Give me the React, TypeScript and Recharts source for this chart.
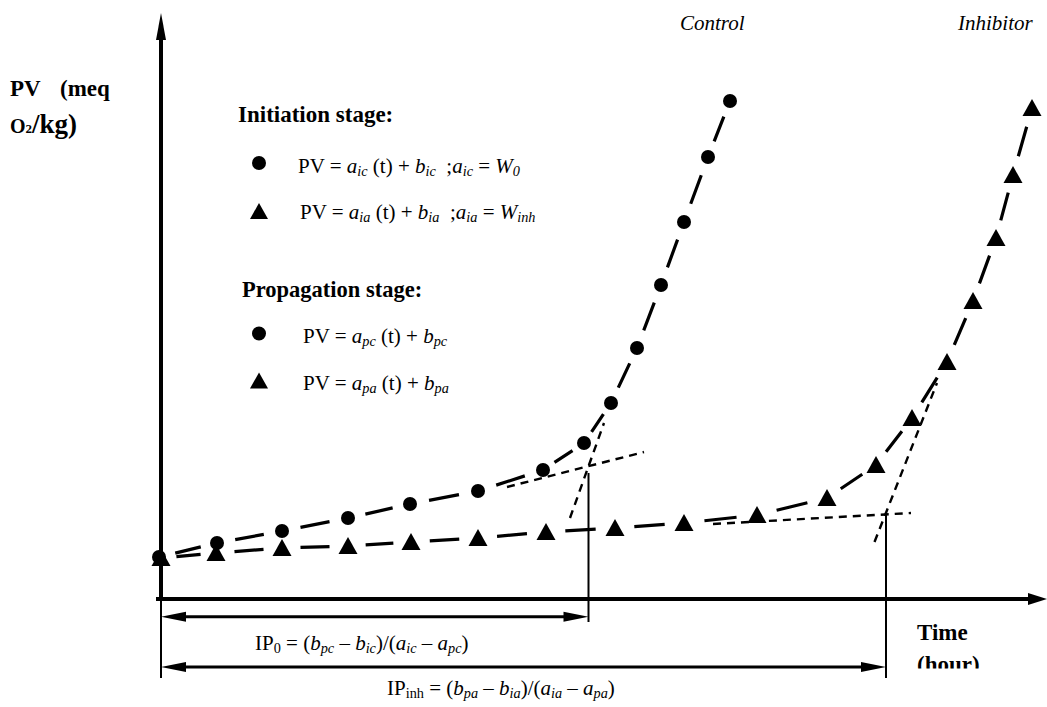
import React from 'react';
import { ComposedChart, Scatter, XAxis, YAxis, ReferenceLine } from 'recharts';

const W = 1047;
const H = 707;
const serif = '"Liberation Serif", "Times New Roman", serif';

// Schematic data (time in arbitrary hours, PV in arbitrary meq O2/kg)
const controlTime = [-0.2, 5.6, 12.1, 18.7, 24.9, 31.7, 38.2, 42.3, 45.0, 47.6, 50.0, 52.3, 54.7, 56.9];
const controlPV = [4.2, 5.6, 6.8, 8.1, 9.5, 10.8, 12.9, 15.6, 19.6, 25.1, 31.4, 37.7, 44.2, 49.8];
const inhibitorTime = [0, 5.5, 12.1, 18.7, 25.0, 31.7, 38.5, 45.4, 52.3, 59.6, 66.6, 71.5, 75.1, 78.6, 81.2, 83.5, 85.2, 87.1];
const inhibitorPV = [4.1, 4.6, 5.1, 5.3, 5.7, 6.1, 6.7, 7.1, 7.6, 8.4, 10.1, 13.4, 18.1, 23.7, 29.8, 36.1, 42.4, 49.1];

// Tangent lines (initiation / propagation stages)
const ctrlInitT = [34.6, 48.3];
const ctrlInitPV = [11.2, 14.7];
const ctrlPropT = [40.9, 44.3];
const ctrlPropPV = [8.1, 17.6];
const inhInitT = [55.2, 75.0];
const inhInitPV = [7.5, 8.6];
const inhPropT = [71.35, 77.6];
const inhPropPV = [5.7, 21.6];

// Induction periods (intersection times) and annotation levels
const ip0Time = 42.75;
const ipInhTime = 72.5;
const ip0Top = 12.6;
const ipInhTop = 8.6;
const ip0ArrowPV = -1.77;
const ipInhArrowPV = -6.8;
const dropBottomPV = -7.9;
const ip0DropBottom = -2.3;

const xDomain = [-16.1, 88.6];
const yDomain = [-10.8, 59.9];
const yAxisTop = 58.6;
const xAxisStart = -0.5;

const zip = (t: number[], v: number[]) => t.map((tt, i) => ({ t: tt, pv: v[i] }));

const controlData = zip(controlTime, controlPV);
const inhibitorData = zip(inhibitorTime, inhibitorPV);

const CircleDot = (p: any) => <circle cx={p.cx} cy={p.cy} r={7} fill="#000" />;
const TriDot = (p: any) => (
  <polygon
    points={`${p.cx},${p.cy - 9} ${p.cx - 9.5},${p.cy + 8} ${p.cx + 9.5},${p.cy + 8}`}
    fill="#000"
  />
);
const NoDot = () => <g />;

const segDash = (p: any) => {
  const pts = p.points || [];
  let d = '';
  for (let i = 0; i < pts.length - 1; i++) {
    const a = pts[i];
    const b = pts[i + 1];
    const dx = b.x - a.x;
    const dy = b.y - a.y;
    d += `M${a.x + dx * 0.28},${a.y + dy * 0.28}L${a.x + dx * 0.72},${a.y + dy * 0.72}`;
  }
  return <path d={d} stroke="#000" strokeWidth={3.2} fill="none" />;
};

const shortDash = (p: any) => {
  const pts = p.points || [];
  const d = pts.map((q: any, i: number) => `${i ? 'L' : 'M'}${q.x},${q.y}`).join('');
  return <path d={d} stroke="#000" strokeWidth={2.4} strokeDasharray="8 6" fill="none" />;
};

function makeArrow(o: { start?: boolean; end?: boolean; len: number; half: number; width: number }) {
  return (p: any) => {
    const { x1, y1, x2, y2 } = p;
    const dx = x2 - x1;
    const dy = y2 - y1;
    const L = Math.hypot(dx, dy) || 1;
    const ux = dx / L;
    const uy = dy / L;
    const nx = -uy;
    const ny = ux;
    let sx = x1;
    let sy = y1;
    let ex = x2;
    let ey = y2;
    const heads: string[] = [];
    const head = (tx: number, ty: number, bx: number, by: number) => {
      const cx = tx + bx * o.len;
      const cy = ty + by * o.len;
      return `${tx},${ty} ${cx + nx * o.half},${cy + ny * o.half} ${cx - nx * o.half},${cy - ny * o.half}`;
    };
    if (o.end) {
      heads.push(head(x2, y2, -ux, -uy));
      ex = x2 - ux * o.len * 0.7;
      ey = y2 - uy * o.len * 0.7;
    }
    if (o.start) {
      heads.push(head(x1, y1, ux, uy));
      sx = x1 + ux * o.len * 0.7;
      sy = y1 + uy * o.len * 0.7;
    }
    return (
      <g>
        <line x1={sx} y1={sy} x2={ex} y2={ey} stroke="#000" strokeWidth={o.width} />
        {heads.map((h, i) => (
          <polygon key={i} points={h} fill="#000" />
        ))}
      </g>
    );
  };
}

const plainLine = (w: number) => (p: any) => (
  <line x1={p.x1} y1={p.y1} x2={p.x2} y2={p.y2} stroke="#000" strokeWidth={w} />
);

type Part = [string, string];

function Formula({ x, y, parts, size = 21 }: { x: number; y: number; parts: Part[]; size?: number }) {
  let shifted = false;
  const shift = size * 0.13;
  const spans = parts.map(([txt, st], i) => {
    const sub = st.includes('s');
    const it = st.includes('i');
    let dy: number | undefined;
    if (sub && !shifted) {
      dy = shift;
      shifted = true;
    } else if (!sub && shifted) {
      dy = -shift;
      shifted = false;
    }
    return (
      <tspan key={i} dy={dy} fontSize={sub ? size * 0.68 : size} fontStyle={it ? 'italic' : 'normal'}>
        {txt}
      </tspan>
    );
  });
  return (
    <text x={x} y={y} fontFamily={serif} fontSize={size} fill="#000" style={{ whiteSpace: 'pre' }}>
      {spans}
    </text>
  );
}

const row1: Part[] = [['PV = ', ''], ['a', 'i'], ['ic', 'si'], [' (t) + ', ''], ['b', 'i'], ['ic', 'si'], ['  ;', ''], ['a', 'i'], ['ic', 'si'], [' = ', ''], ['W', 'i'], ['0', 'si']];
const row2: Part[] = [['PV = ', ''], ['a', 'i'], ['ia', 'si'], [' (t) + ', ''], ['b', 'i'], ['ia', 'si'], ['  ;', ''], ['a', 'i'], ['ia', 'si'], [' = ', ''], ['W', 'i'], ['inh', 'si']];
const row3: Part[] = [['PV = ', ''], ['a', 'i'], ['pc', 'si'], [' (t) + ', ''], ['b', 'i'], ['pc', 'si']];
const row4: Part[] = [['PV = ', ''], ['a', 'i'], ['pa', 'si'], [' (t) + ', ''], ['b', 'i'], ['pa', 'si']];
const ip0: Part[] = [['IP', ''], ['0', 's'], [' = (', ''], ['b', 'i'], ['pc', 'si'], [' \u2013 ', ''], ['b', 'i'], ['ic', 'si'], [')/(', ''], ['a', 'i'], ['ic', 'si'], [' \u2013 ', ''], ['a', 'i'], ['pc', 'si'], [')', '']];
const ipInh: Part[] = [['IP', ''], ['inh', 's'], [' = (', ''], ['b', 'i'], ['pa', 'si'], [' \u2013 ', ''], ['b', 'i'], ['ia', 'si'], [')/(', ''], ['a', 'i'], ['ia', 'si'], [' \u2013 ', ''], ['a', 'i'], ['pa', 'si'], [')', '']];

function Overlay() {
  return (
    <svg width={W} height={H} style={{ position: 'absolute', left: 0, top: 0, pointerEvents: 'none' }}>
      <defs>
        <clipPath id="hourClip">
          <rect x={0} y={0} width={W} height={668.5} />
        </clipPath>
      </defs>
      <g fontFamily={serif} fill="#000">
        <text x={10} y={96} fontSize={23} fontWeight="bold">PV</text>
        <text x={60} y={96} fontSize={23} fontWeight="bold">(meq</text>
        <text x={10} y={133} fontWeight="bold">
          <tspan fontSize={20}>O</tspan>
          <tspan fontSize={13}>2</tspan>
          <tspan fontSize={27}>/kg)</tspan>
        </text>
        <text x={680} y={30} fontSize={21} fontStyle="italic">Control</text>
        <text x={958} y={30} fontSize={21} fontStyle="italic">Inhibitor</text>
        <text x={238} y={122} fontSize={23} fontWeight="bold">Initiation stage:</text>
        <text x={242} y={297} fontSize={22.5} fontWeight="bold">Propagation stage:</text>
        <text x={917} y={640} fontSize={23} fontWeight="bold">Time</text>
        <text x={917} y={672} fontSize={23} fontWeight="bold" clipPath="url(#hourClip)">(hour)</text>
      </g>
      <circle cx={259} cy={163} r={7} fill="#000" />
      <polygon points="259,203 250,219 268,219" fill="#000" />
      <circle cx={259} cy={333.5} r={7} fill="#000" />
      <polygon points="259,372.5 250,388.5 268,388.5" fill="#000" />
      <Formula x={298} y={173} parts={row1} />
      <Formula x={300} y={219} parts={row2} />
      <Formula x={303} y={343} parts={row3} />
      <Formula x={303} y={390} parts={row4} />
      <Formula x={255} y={650} parts={ip0} />
      <Formula x={387} y={695} parts={ipInh} />
    </svg>
  );
}

export default function App() {
  return (
    <div style={{ position: 'absolute', left: 0, top: 0, width: W, height: H, background: '#fff' }}>
      <ComposedChart width={W} height={H} margin={{ top: 0, right: 0, bottom: 0, left: 0 }}>
        <XAxis type="number" dataKey="t" domain={xDomain} hide height={0} allowDataOverflow />
        <YAxis type="number" dataKey="pv" domain={yDomain} hide width={0} allowDataOverflow />

        <ReferenceLine
          ifOverflow="visible"
          segment={[{ x: xAxisStart, y: 0 }, { x: xDomain[1], y: 0 }]}
          shape={makeArrow({ end: true, len: 19, half: 6, width: 4 })}
        />
        <ReferenceLine
          ifOverflow="visible"
          segment={[{ x: 0, y: -0.2 }, { x: 0, y: yAxisTop }]}
          shape={makeArrow({ end: true, len: 27, half: 5, width: 4 })}
        />
        <ReferenceLine
          ifOverflow="visible"
          segment={[{ x: 0, y: 0 }, { x: 0, y: dropBottomPV }]}
          shape={plainLine(2)}
        />
        <ReferenceLine
          ifOverflow="visible"
          segment={[{ x: ip0Time, y: ip0Top }, { x: ip0Time, y: ip0DropBottom }]}
          shape={plainLine(2)}
        />
        <ReferenceLine
          ifOverflow="visible"
          segment={[{ x: ipInhTime, y: ipInhTop }, { x: ipInhTime, y: dropBottomPV }]}
          shape={plainLine(2)}
        />
        <ReferenceLine
          ifOverflow="visible"
          segment={[{ x: 0, y: ip0ArrowPV }, { x: ip0Time, y: ip0ArrowPV }]}
          shape={makeArrow({ start: true, end: true, len: 25, half: 5, width: 3 })}
        />
        <ReferenceLine
          ifOverflow="visible"
          segment={[{ x: 0, y: ipInhArrowPV }, { x: ipInhTime, y: ipInhArrowPV }]}
          shape={makeArrow({ start: true, end: true, len: 25, half: 5, width: 3 })}
        />

        <Scatter data={zip(ctrlInitT, ctrlInitPV)} dataKey="pv" shape={NoDot} line={shortDash} isAnimationActive={false} />
        <Scatter data={zip(ctrlPropT, ctrlPropPV)} dataKey="pv" shape={NoDot} line={shortDash} isAnimationActive={false} />
        <Scatter data={zip(inhInitT, inhInitPV)} dataKey="pv" shape={NoDot} line={shortDash} isAnimationActive={false} />
        <Scatter data={zip(inhPropT, inhPropPV)} dataKey="pv" shape={NoDot} line={shortDash} isAnimationActive={false} />

        <Scatter data={controlData} dataKey="pv" shape={CircleDot} line={segDash} isAnimationActive={false} />
        <Scatter data={inhibitorData} dataKey="pv" shape={TriDot} line={segDash} isAnimationActive={false} />
      </ComposedChart>
      <Overlay />
    </div>
  );
}
